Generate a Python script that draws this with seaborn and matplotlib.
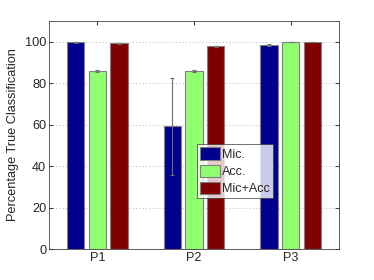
import matplotlib
matplotlib.use("Agg")
import matplotlib.pyplot as plt
import seaborn as sns
import pandas as pd
import numpy as np

categories = ["P1", "P2", "P3"]
series = ["Mic.", "Acc.", "Mic+Acc"]
mic = [99.8, 59.2, 98.5]
acc = [85.8, 85.8, 99.9]
micacc = [99.3, 97.8, 99.9]
mic_err = [0.2, 23.5, 0.5]
acc_err = [0.5, 0.6, 0.2]
micacc_err = [0.2, 0.2, 0.2]
yticks = [0, 20, 40, 60, 80, 100]

colors = ["#00008F", "#8FFF70", "#800000"]

rows = []
for s, vals in zip(series, [mic, acc, micacc]):
    for c, v in zip(categories, vals):
        rows.append({"cat": c, "series": s, "val": v})
df = pd.DataFrame(rows)

sns.set_style("white")
plt.rcParams['font.family'] = ['Liberation Sans', 'DejaVu Sans']

fig = plt.figure(figsize=(3.74, 2.8), dpi=100)
ax = fig.add_axes([49/374, 1 - 249/280, 290/374, 228/280])

sns.barplot(data=df, x="cat", y="val", hue="series", palette=colors,
            saturation=1, errorbar=None, width=0.67, gap=0.2, ax=ax,
            edgecolor="#808080", linewidth=0.8, zorder=3)

for cont, errs in zip(ax.containers, [mic_err, acc_err, micacc_err]):
    xs = [b.get_x() + b.get_width() / 2 for b in cont]
    hs = [b.get_height() for b in cont]
    ax.errorbar(xs, hs, yerr=errs, fmt="none", ecolor="#707070",
                elinewidth=0.8, capsize=1.5, capthick=0.8, zorder=4)

ax.set_ylim(0, 110)
ax.set_xlim(-0.5, 2.5)
ax.set_yticks(yticks)
ax.set_xlabel("")
ax.set_ylabel("Percentage True Classification", fontsize=9.2, labelpad=4)
ax.tick_params(axis="both", labelsize=9.2, direction="in", length=3,
               top=True, right=True, bottom=True, left=True, pad=2,
               color="#404040")
ax.yaxis.grid(True, linestyle=(0, (1, 3)), color="#a0a0a0", linewidth=0.6, zorder=0)
ax.set_axisbelow(True)
for sp in ax.spines.values():
    sp.set_visible(True)
    sp.set_color("#404040")
    sp.set_linewidth(0.6)

leg = ax.legend(loc="lower left", bbox_to_anchor=(0.51, 0.222), fontsize=9,
                frameon=True, fancybox=False, edgecolor="#303030",
                borderpad=0.25, labelspacing=0.3, handlelength=1.6,
                handleheight=1.15, handletextpad=0.15, borderaxespad=0)
leg.get_frame().set_linewidth(0.6)

fig.savefig("out.png", dpi=100, facecolor="white")
